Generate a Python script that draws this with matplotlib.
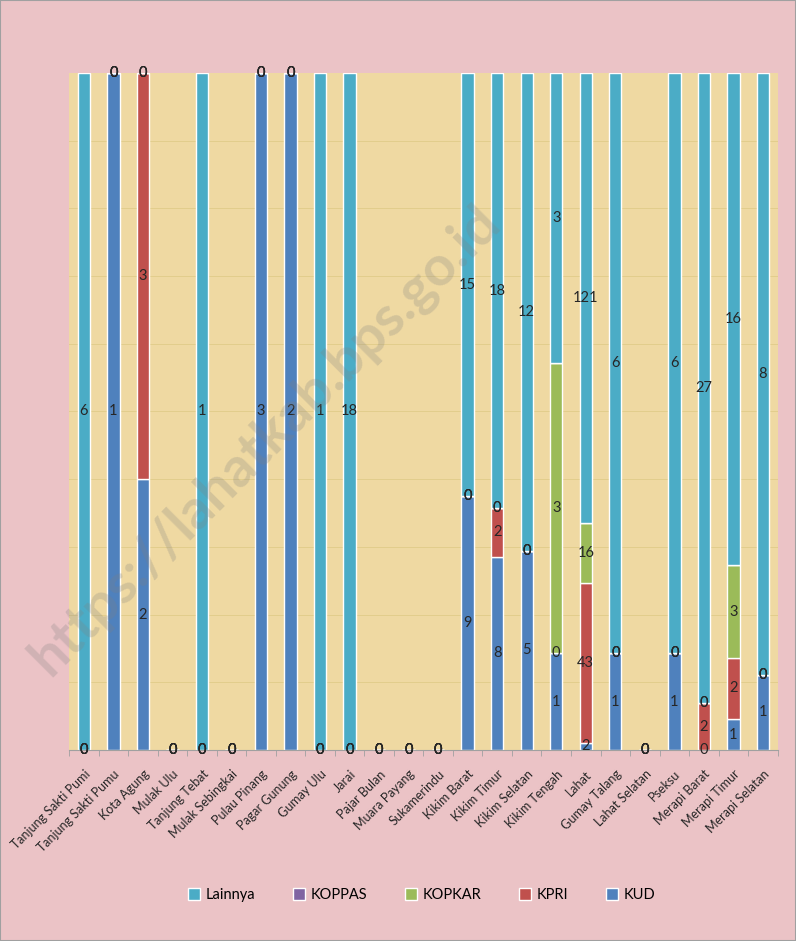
import numpy as np
import matplotlib
matplotlib.use("Agg")
import matplotlib.pyplot as plt
from matplotlib.patches import Patch

plt.rcParams['font.family'] = ['Lato', 'DejaVu Sans']

kecamatan = ["Tanjung Sakti Pumi", "Tanjung Sakti Pumu", "Kota Agung", "Mulak Ulu",
             "Tanjung Tebat", "Mulak Sebingkai", "Pulau Pinang", "Pagar Gunung",
             "Gumay Ulu", "Jarai", "Pajar Bulan", "Muara Payang", "Sukamerindu",
             "Kikim Barat", "Kikim Timur", "Kikim Selatan", "Kikim Tengah", "Lahat",
             "Gumay Talang", "Lahat Selatan", "Pseksu", "Merapi Barat", "Merapi Timur",
             "Merapi Selatan"]
nan = np.nan
kud = [0, 1, 2, 0, 0, 0, 3, 2, 0, 0, 0, 0, 0, 9, 8, 5, 1, 2, 1, 0, 1, 0, 1, 1]
kpri = [0, 0, 3, 0, 0, 0, 0, 0, 0, 0, 0, 0, 0, 0, 2, 0, 0, 43, 0, 0, 0, 2, 2, 0]
kopkar = [0, 0, 0, 0, 0, 0, 0, 0, 0, 0, 0, 0, 0, 0, 0, 0, 3, 16, 0, 0, 0, 0, 3, 0]
koppas = [0, 0, 0, 0, 0, 0, 0, 0, 0, 0, 0, 0, 0, 0, 0, 0, nan, nan, 0, 0, 0, 0, nan, 0]
lainnya = [6, 0, 0, 0, 1, 0, 0, 0, 1, 18, 0, 0, 0, 15, 18, 12, 3, 121, 6, 0, 6, 27, 16, 8]

series = [("KUD", kud, "#4F81BD"), ("KPRI", kpri, "#C0504D"),
          ("KOPKAR", kopkar, "#9BBB59"), ("KOPPAS", koppas, "#8064A2"),
          ("Lainnya", lainnya, "#4BACC6")]

fig = plt.figure(figsize=(7.96, 9.41), dpi=100)
fig.patch.set_facecolor("#EBC3C6")
ax = fig.add_axes([0.0867, 0.2030, 0.8903, 0.7194])
ax.set_facecolor("#EFD9A2")

x = np.arange(len(kecamatan))
vals = np.array([np.nan_to_num(np.array(s[1], dtype=float)) for s in series])
tot = vals.sum(axis=0)
tot_safe = np.where(tot == 0, 1, tot)

# faint gridlines every 10%
for yy in np.arange(0.1, 1.0, 0.1):
    ax.axhline(yy, color="#E2CD8C", lw=0.7, zorder=0)

bottom = np.zeros(len(x))
for name, v, col in series:
    raw = np.array(v, dtype=float)
    h = np.nan_to_num(raw) / tot_safe
    ax.bar(x, h, 0.42, bottom=bottom, color=col, edgecolor="white", linewidth=1.0, zorder=2)
    for i in range(len(x)):
        if np.isnan(raw[i]):
            continue
        ax.text(x[i], bottom[i] + h[i] / 2, "%d" % raw[i], ha="center", va="center",
                fontsize=10.5, color="#262626", zorder=3)
    bottom = bottom + h

ax.set_xlim(-0.5, len(x) - 0.5)
ax.set_ylim(0, 1)
ax.set_yticks([])
for s in ["top", "right", "left"]:
    ax.spines[s].set_visible(False)
ax.spines["bottom"].set_color("#A0A0A0")
ax.set_xticks(x)
ax.set_xticklabels(kecamatan, rotation=45, ha="right", rotation_mode="anchor",
                   fontsize=9, color="#262626")
ax.tick_params(axis="x", length=0, pad=13)
ax.set_xticks(np.arange(-0.5, len(x), 1), minor=True)
ax.tick_params(axis="x", which="minor", length=4, color="#A0A0A0")

handles = [Patch(facecolor=c, edgecolor="white", label=n) for n, v, c in series[::-1]]
fig.legend(handles=handles, loc="center", bbox_to_anchor=(0.53, 1 - 895 / 941), ncol=5,
           frameon=False, fontsize=10.5, handlelength=0.8, handleheight=0.8,
           columnspacing=2.6, handletextpad=0.4)

fig.text(265 / 796, 1 - 440 / 941, "https://lahatkab.bps.go.id", rotation=45,
         ha="center", va="center", fontsize=40, fontweight="bold", color="#808080",
         alpha=0.25, zorder=10)

fig.patches.append(plt.Rectangle((0, 0), 1, 1, transform=fig.transFigure, fill=False,
                                 edgecolor="#A0A0A0", lw=1.5))

fig.savefig("out.png", dpi=100, facecolor=fig.get_facecolor())
